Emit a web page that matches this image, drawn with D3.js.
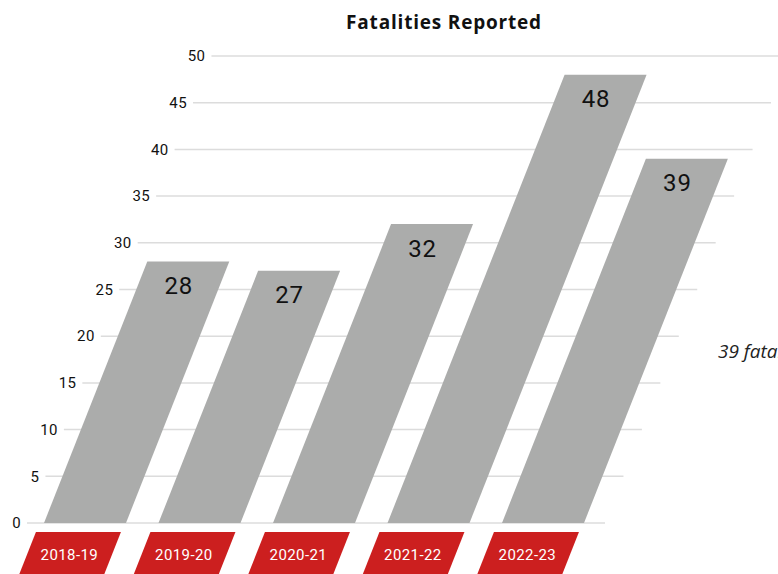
<!DOCTYPE html>
<html>
<head>
<meta charset="utf-8">
<script src="https://cdn.jsdelivr.net/npm/d3@7"></script>
<style>
  body { margin: 0; background: #fff; }
  svg { display: block; font-family: Roboto, "Noto Sans", sans-serif; }
</style>
</head>
<body>
<div id="chart"></div>
<script>
// data
const years = ["2018-19", "2019-20", "2020-21", "2021-22", "2022-23"];
const fatalities = [28, 27, 32, 48, 39];
const yTicks = [0, 5, 10, 15, 20, 25, 30, 35, 40, 45, 50];

const width = 778, height = 574;
const baseY = 523;      // pixel row of the zero line
const skew = 0.395;     // horizontal shift per pixel of height

const svg = d3.select("#chart").append("svg")
    .attr("width", width)
    .attr("height", height);

const scaleY = d3.scaleLinear([0, 50], [baseY, 56]);
const scaleX = d3.scaleBand(years, [44, 584]).paddingInner(0.284).paddingOuter(0);

// shift of everything as it rises above the zero line
const shift = y => skew * (baseY - y);

// gridlines + tick labels
const grid = svg.append("g");
grid.selectAll("line")
    .data(yTicks)
    .join("line")
    .attr("x1", d => 27 + shift(scaleY(d)))
    .attr("x2", d => 605 + shift(scaleY(d)))
    .attr("y1", d => scaleY(d))
    .attr("y2", d => scaleY(d))
    .attr("stroke", "#dcdcdc")
    .attr("stroke-width", 1.5);

grid.selectAll("text")
    .data(yTicks)
    .join("text")
    .attr("x", d => 21 + shift(scaleY(d)))
    .attr("y", d => scaleY(d))
    .attr("dy", "0.35em")
    .attr("text-anchor", "end")
    .attr("font-size", 15)
    .attr("letter-spacing", 0.4)
    .attr("fill", "#111")
    .text(d => d);

// slanted bars
const bars = svg.append("g");
bars.selectAll("polygon")
    .data(years.map((y, i) => [y, fatalities[i]]))
    .join("polygon")
    .attr("fill", "#abacab")
    .attr("points", d => {
        const x0 = scaleX(d[0]), w = scaleX.bandwidth();
        const yt = scaleY(d[1]), s = shift(yt);
        return [[x0, baseY], [x0 + w, baseY], [x0 + w + s, yt], [x0 + s, yt]].join(" ");
    });

// value labels inside the top of each bar
bars.selectAll("text")
    .data(years.map((y, i) => [y, fatalities[i]]))
    .join("text")
    .attr("x", d => scaleX(d[0]) + scaleX.bandwidth() / 2 + shift(scaleY(d[1]) + 24))
    .attr("y", d => scaleY(d[1]) + 24)
    .attr("dy", "0.35em")
    .attr("text-anchor", "middle")
    .attr("font-size", 24)
    .attr("letter-spacing", 0.8)
    .attr("fill", "#111")
    .text(d => d[1]);

// red category tags
const tagTop = 532, tagBottom = 582, tagW = 85;
const tags = svg.append("g");
tags.selectAll("polygon")
    .data(years)
    .join("polygon")
    .attr("fill", "#cc1f1f")
    .attr("points", d => {
        const c = scaleX(d) + scaleX.bandwidth() / 2 - 3;
        const st = shift(tagTop), sb = shift(tagBottom);
        return [[c - tagW / 2 + st, tagTop], [c + tagW / 2 + st, tagTop],
                [c + tagW / 2 + sb, tagBottom], [c - tagW / 2 + sb, tagBottom]].join(" ");
    });
tags.selectAll("text")
    .data(years)
    .join("text")
    .attr("x", d => scaleX(d) + scaleX.bandwidth() / 2 - 3 + shift(555))
    .attr("y", 555)
    .attr("dy", "0.35em")
    .attr("text-anchor", "middle")
    .attr("font-size", 15)
    .attr("letter-spacing", 0.4)
    .attr("fill", "#fff")
    .text(d => d);

// title
svg.append("text")
    .attr("x", 444)
    .attr("y", 22)
    .attr("dy", "0.35em")
    .attr("text-anchor", "middle")
    .attr("font-family", "'Open Sans', sans-serif")
    .attr("font-size", 19)
    .attr("font-weight", "bold")
    .attr("letter-spacing", 0.8)
    .attr("fill", "#111")
    .text("Fatalities Reported");

// side note (cut off by the frame, as in the source)
svg.append("text")
    .attr("x", 718)
    .attr("y", 351)
    .attr("dy", "0.35em")
    .attr("font-family", "'Open Sans', sans-serif")
    .attr("font-size", 19)
    .attr("font-style", "italic")
    .attr("fill", "#222")
    .text("39 fatalities reported in 2022-23");
</script>
</body>
</html>
